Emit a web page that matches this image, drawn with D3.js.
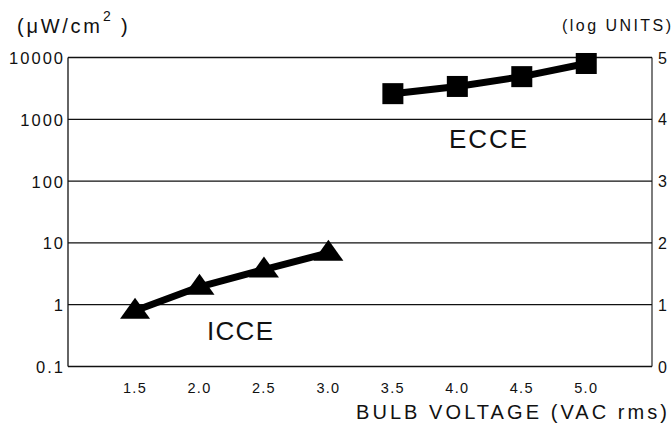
<!DOCTYPE html>
<html><head><meta charset="utf-8">
<script src="https://cdn.jsdelivr.net/npm/d3@7"></script>
<style>
html,body{margin:0;padding:0;background:#fff;}
text{font-family:"Liberation Sans",Arial,Helvetica,sans-serif;fill:#111;}
</style></head>
<body><svg id="c" width="672" height="429"></svg>
<script>
// ---- data ----
const icceVoltage = [1.5, 2.0, 2.5, 3.0];
const icceValues  = [0.8, 1.95, 3.7, 6.9];
const ecceVoltage = [3.5, 4.0, 4.5, 5.0];
const ecceValues  = [2600, 3400, 4900, 8000];
const xTicks = [1.5, 2.0, 2.5, 3.0, 3.5, 4.0, 4.5, 5.0];
const yTicks = [0.1, 1, 10, 100, 1000, 10000];
const yTickLabels = ["0.1", "1", "10", "100", "1000", "10000"];
const logTicks = [0, 1, 2, 3, 4, 5];

const svg = d3.select("#c");
const L = 68, R = 652, T = 57.5, B = 366.5;
const x = d3.scaleLinear().domain([0.98, 5.51]).range([L, R]);
const y = d3.scaleLog().domain([0.1, 10000]).range([B, T]);
const yLog = d3.scaleLinear().domain([0, 5]).range([B, T]);

// gridlines
svg.append("g").selectAll("line").data(yTicks).join("line")
  .attr("x1", L).attr("x2", R).attr("y1", d => y(d)).attr("y2", d => y(d))
  .attr("stroke", "#111").attr("stroke-width", 1.3);
// left & right axis lines
svg.append("line").attr("x1", L).attr("x2", L).attr("y1", T).attr("y2", B).attr("stroke", "#111").attr("stroke-width", 1.3);
svg.append("line").attr("x1", R).attr("x2", R).attr("y1", T).attr("y2", B).attr("stroke", "#111").attr("stroke-width", 1.1);

// left tick labels
svg.append("g").selectAll("text").data(yTicks).join("text")
  .attr("x", 65).attr("y", d => y(d) + 6.5)
  .attr("text-anchor", "end").attr("font-size", 16.5).attr("letter-spacing", 2)
  .text((d, i) => yTickLabels[i]);
// right tick labels
svg.append("g").selectAll("text").data(logTicks).join("text")
  .attr("x", 658).attr("y", d => yLog(d) + 6)
  .attr("font-size", 16)
  .text(d => d);
// x tick labels
svg.append("g").selectAll("text").data(xTicks).join("text")
  .attr("x", d => x(d)).attr("y", 393)
  .attr("text-anchor", "middle").attr("font-size", 14.5).attr("letter-spacing", 1.3)
  .text(d => d.toFixed(1));

// titles
const t1 = svg.append("text").attr("x", 17).attr("y", 33).attr("font-size", 20);
t1.append("tspan").text("(μW/cm").attr("textLength", 83).attr("lengthAdjust", "spacing");
t1.append("tspan").attr("x", 103).attr("y", 21).attr("font-size", 14).text("2");
t1.append("tspan").attr("x", 121).attr("y", 33).text(")");
svg.append("text").attr("x", 562).attr("y", 31).attr("font-size", 16)
  .attr("textLength", 109).attr("lengthAdjust", "spacing").text("(log UNITS)");
svg.append("text").attr("x", 356).attr("y", 419).attr("font-size", 20)
  .attr("textLength", 311).attr("lengthAdjust", "spacing").text("BULB VOLTAGE (VAC rms)");

// series lines
const line = d3.line().x(d => x(d[0])).y(d => y(d[1]));
const icce = icceVoltage.map((v, i) => [v, icceValues[i]]);
const ecce = ecceVoltage.map((v, i) => [v, ecceValues[i]]);
svg.append("path").datum(icce).attr("d", line).attr("fill", "none")
  .attr("stroke", "#000").attr("stroke-width", 7).attr("stroke-linejoin", "round");
svg.append("path").datum(ecce).attr("d", line).attr("fill", "none")
  .attr("stroke", "#000").attr("stroke-width", 7).attr("stroke-linejoin", "round");

// markers
svg.append("g").selectAll("path").data(icce).join("path")
  .attr("transform", d => `translate(${x(d[0])},${y(d[1])})`)
  .attr("d", "M0,-13 L15,8 L-15,8 Z").attr("fill", "#000");
svg.append("g").selectAll("rect").data(ecce).join("rect")
  .attr("x", d => x(d[0]) - 10.5).attr("y", d => y(d[1]) - 10.5)
  .attr("width", 21).attr("height", 21).attr("fill", "#000");

// series labels
svg.append("text").attr("x", 449).attr("y", 148).attr("font-size", 26)
  .attr("textLength", 78).attr("lengthAdjust", "spacing").text("ECCE");
svg.append("text").attr("x", 207).attr("y", 340).attr("font-size", 26)
  .attr("textLength", 66).attr("lengthAdjust", "spacing").text("ICCE");
</script></body></html>
